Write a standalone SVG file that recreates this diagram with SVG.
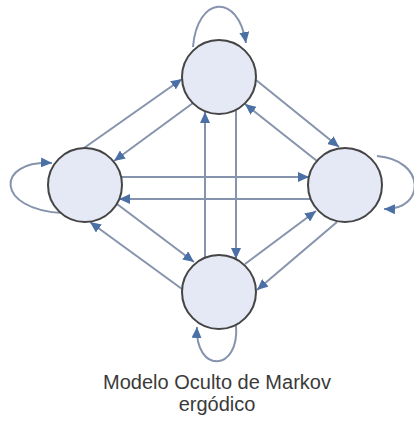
<svg xmlns="http://www.w3.org/2000/svg" width="414" height="421" viewBox="0 0 414 421">
<style>
.node circle{fill:#e5e9f5;stroke:#454545;stroke-width:2}
.edge{fill:none;stroke:#8593ad;stroke-width:2;marker-end:url(#arr)}
.lbl{font-family:"Liberation Sans",Arial,sans-serif;font-size:20px;fill:#3a3a3a;text-anchor:middle}
</style>
<defs>
<marker id="arr" markerUnits="userSpaceOnUse" markerWidth="12" markerHeight="10" refX="11" refY="5" orient="auto">
<path d="M0,0 L11,5 L0,10 z" fill="#4b70a6"/>
</marker>
</defs>
<rect width="414" height="421" fill="#ffffff"/>
<g id="connectors">
<path class="edge" d="M193,47 C197,-4 238,-8 246,43"/>
<path class="edge" d="M63,213 C-5,210 -5,160 52,163"/>
<path class="edge" d="M377,156 C426,160 426,210 384,209"/>
<path class="edge" d="M236,325 C240,372 195,374 197,327"/>
<path class="edge" d="M84,148 L182,79"/>
<path class="edge" d="M193,103 L114,161"/>
<path class="edge" d="M256,80 L339,147"/>
<path class="edge" d="M317,161 L245,104"/>
<path class="edge" d="M121,177 L309,177"/>
<path class="edge" d="M311,199 L119,199"/>
<path class="edge" d="M205,258 L205,112"/>
<path class="edge" d="M236,110 L236,259"/>
<path class="edge" d="M117,204 L194,262"/>
<path class="edge" d="M182,289 L90,222"/>
<path class="edge" d="M245,264 L316,211"/>
<path class="edge" d="M337,222 L257,290"/>
</g>
<g id="node-top" class="node"><circle cx="219" cy="77" r="37"/></g>
<g id="node-left" class="node"><circle cx="85" cy="185" r="37"/></g>
<g id="node-right" class="node"><circle cx="345" cy="185" r="37"/></g>
<g id="node-bottom" class="node"><circle cx="219" cy="292" r="37"/></g>
<g id="caption">
<text class="lbl" x="217" y="389">Modelo Oculto de Markov</text>
<text class="lbl" x="217" y="411">ergódico</text>
</g>
</svg>
